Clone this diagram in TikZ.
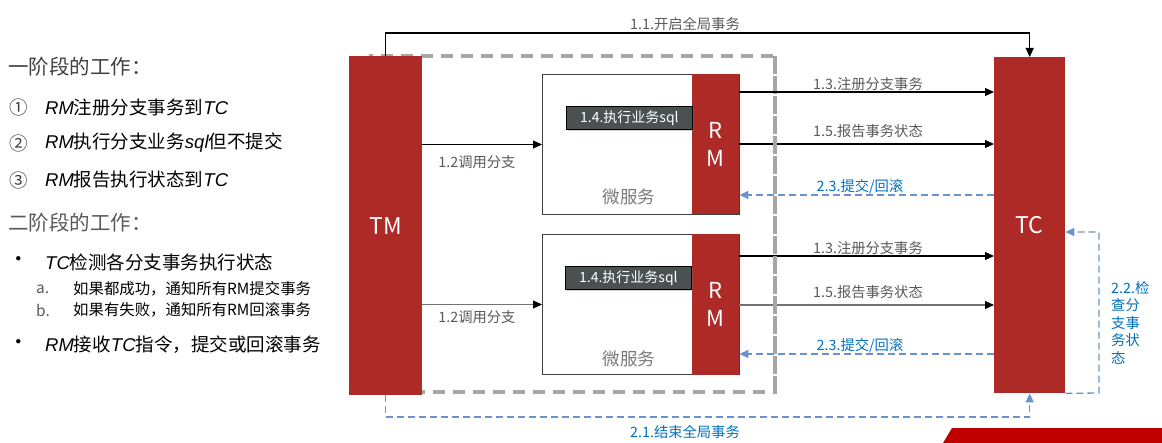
\documentclass[tikz,border=0pt]{standalone}
\usepackage{fontspec}
\setmainfont{Noto Sans CJK SC}
\newfontfamily\hand{Liberation Sans}
\usetikzlibrary{arrows.meta,shadows}
\definecolor{myred}{HTML}{AD2A27}
\definecolor{txtgray}{HTML}{595959}
\definecolor{dkgray}{HTML}{404040}
\definecolor{lblue}{HTML}{0070C0}
\definecolor{dblue}{HTML}{6A92CE}
\definecolor{sqlbox}{HTML}{4B5151}
\definecolor{framegray}{HTML}{A6A6A6}
\definecolor{bannerred}{HTML}{C00000}
\newcommand{\lat}[1]{{\hand\itshape #1}}
\tikzset{
  redbox/.style={fill=myred, draw=none, text=white, inner sep=0, align=center},
  msbox/.style={draw=dkgray, line width=1, fill=white, minimum width=197, minimum height=140, inner sep=0, anchor=north west},
  sqlnode/.style={fill=sqlbox, draw=black, line width=0.8, text=white, minimum width=126, minimum height=23, inner sep=0, anchor=north west,
     font=\fontsize{14}{15}\selectfont, drop shadow={opacity=0.35, shadow xshift=2pt, shadow yshift=-2pt}},
  lbl/.style={text=txtgray, font=\fontsize{14.3}{16}\selectfont, inner sep=0},
  blbl/.style={text=lblue, font=\fontsize{14.3}{16}\selectfont, inner sep=0},
  arr/.style={line width=1.1pt, -{Triangle[length=9,width=8,color=black]}},
  barr/.style={draw=dblue, line width=1.3pt, dash pattern=on 7pt off 4pt, -{Triangle[length=9,width=8]}},
  framed/.style={draw=framegray, line width=3.2pt, dash pattern=on 12pt off 8pt},
  lefttxt/.style={anchor=west, inner sep=0, text=dkgray},
  head/.style={font=\fontsize{20.5}{23}\selectfont},
  big/.style={font=\fontsize{18.5}{21}\selectfont},
  small/.style={font=\fontsize{15.4}{17}\selectfont},
}
\begin{document}
\begin{tikzpicture}[x=1pt,y=-1pt]
\useasboundingbox (0,0) rectangle (1162,443);

% left text
\node[lefttxt, head] (h1) at (8,67) {一阶段的工作：};
\node[lefttxt, big] (c1) at (9,107) {①};
\node[lefttxt, big, text=black] (t1) at (45,107) {\lat{RM}注册分支事务到\lat{TC}};
\node[lefttxt, big] (c2) at (9,143) {②};
\node[lefttxt, big, text=black] (t2) at (45,143) {\lat{RM}执行分支业务\lat{sql}但不提交};
\node[lefttxt, big] (c3) at (9,180) {③};
\node[lefttxt, big, text=black] (t3) at (45,180) {\lat{RM}报告执行状态到\lat{TC}};
\node[lefttxt, head, text=txtgray] (h2) at (8,223) {二阶段的工作：};
\node[lefttxt, head, text=black] (b1) at (8,262) {•};
\node[lefttxt, big, text=black] (t4) at (45,262) {\lat{TC}检测各分支事务执行状态};
\node[lefttxt, small, text=txtgray] (a1) at (36,289) {a.};
\node[lefttxt, small, text=black] (t5) at (73,289) {如果都成功，通知所有RM提交事务};
\node[lefttxt, small, text=txtgray] (a2) at (36,310) {b.};
\node[lefttxt, small, text=black] (t6) at (73,310) {如果有失败，通知所有RM回滚事务};
\node[lefttxt, head, text=black] (b2) at (8,345) {•};
\node[lefttxt, big, text=black] (t7) at (45,345) {\lat{RM}接收\lat{TC}指令，提交或回滚事务};

% dashed gray frame
\draw[framed] (369,56) rectangle (775,392);

% main red bars
\node[redbox, minimum width=73, minimum height=339, anchor=north west, font=\fontsize{23}{25}\selectfont] (tm) at (349,56) {TM};
\node[redbox, minimum width=71, minimum height=336, anchor=north west, font=\fontsize{23}{25}\selectfont] (tc) at (994,57) {TC};

% microservice boxes
\node[msbox] (ms1) at (542,74) {};
\node[msbox] (ms2) at (542,234) {};
\node[redbox, minimum width=47, minimum height=140, anchor=north west, font=\fontsize{22}{28}\selectfont] (rm1) at (692,74) {R\\M};
\node[redbox, minimum width=47, minimum height=141, anchor=north west, font=\fontsize{22}{28}\selectfont] (rm2) at (692,234) {R\\M};
\node[sqlnode] (sql1) at (566,106) {1.4.执行业务sql};
\node[sqlnode] (sql2) at (565,266) {1.4.执行业务sql};
\node[text=txtgray!80, font=\fontsize{17.5}{19}\selectfont, inner sep=0] (w1) at (629,197) {微服务};
\node[text=txtgray!80, font=\fontsize{17.5}{19}\selectfont, inner sep=0] (w2) at (629,359) {微服务};

% 1.1
\draw[arr] (tm.north) -- (tm.north |- 0,33) -| (tc.north);
\node[lbl] (l11) at (685,24) {1.1.开启全局事务};

% 1.2
\draw[arr] (tm.east |- ms1.west) -- (ms1.west);
\node[lbl] (l12a) at (477,162) {1.2调用分支};
\draw[arr, draw=black!55] (tm.east |- ms2.west) -- (ms2.west);
\node[lbl] (l12b) at (477,317) {1.2调用分支};

% RM1 <-> TC
\draw[arr] (rm1.east |- 0,92) -- (tc.west |- 0,92);
\node[lbl] (l13a) at (868,84) {1.3.注册分支事务};
\draw[arr] (rm1.east |- 0,144) -- (tc.west |- 0,144);
\node[lbl] (l15a) at (868,131) {1.5.报告事务状态};
\draw[barr] (tc.west |- 0,195) -- (rm1.east |- 0,195);
\node[blbl] (l23a) at (860,187) {2.3.提交/回滚};

% RM2 <-> TC
\draw[arr] (rm2.east |- 0,256) -- (tc.west |- 0,256);
\node[lbl] (l13b) at (868,248) {1.3.注册分支事务};
\draw[arr, draw=black!55] (rm2.east |- 0,305) -- (tc.west |- 0,305);
\node[lbl] (l15b) at (868,292) {1.5.报告事务状态};
\draw[barr] (tc.west |- 0,354) -- (rm2.east |- 0,354);
\node[blbl] (l23b) at (860,346) {2.3.提交/回滚};

% dashed gray frame on top of crossing arrows (right side only)
\draw[framed] (775,56) -- (775,392);

% 2.1
\draw[barr] (tm.south) -- (tm.south |- 0,417) -| (tc.south);
\node[blbl] (l21) at (685,432) {2.1.结束全局事务};

% 2.2
\coordinate (c22a) at (1099,393);
\coordinate (c22b) at (1099,232);
\draw[barr] (tc.south east) -- (c22a) -- (c22b) -- (tc.east |- c22b);
\node[blbl, anchor=north west, align=left, font=\fontsize{14.3}{17.5}\selectfont] (l22) at (1111,281) {2.2.检\\查分\\支事\\务状\\态};

% banner
\fill[bannerred] (952,428) -- (1162,428) -- (1162,443) -- (943,443) -- cycle;
\end{tikzpicture}
\end{document}
